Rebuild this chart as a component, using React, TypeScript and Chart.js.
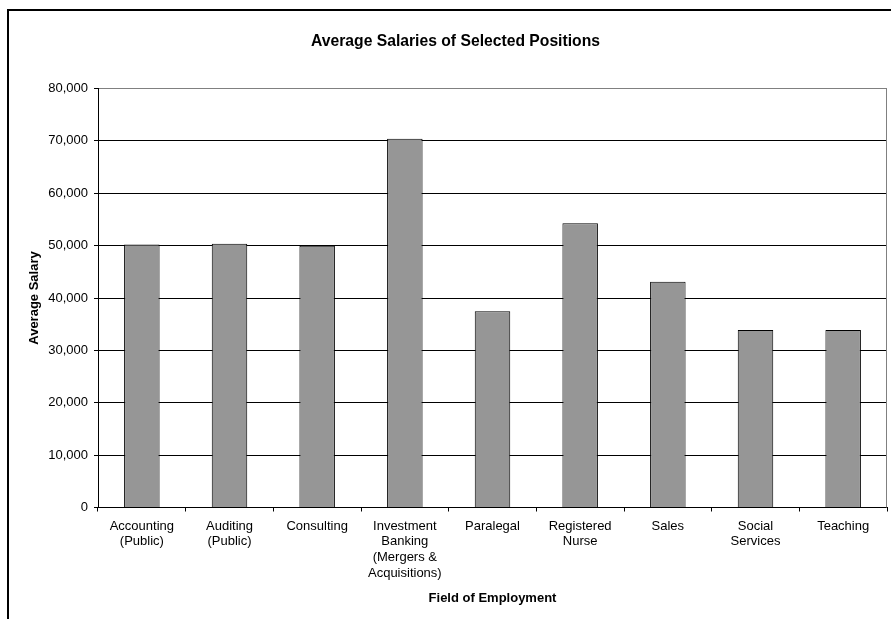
import React, { useEffect, useRef } from "react";
import { Chart, registerables } from "chart.js";

Chart.register(...registerables);

const categories: string[][] = [
  ["Accounting", "(Public)"],
  ["Auditing", "(Public)"],
  ["Consulting"],
  ["Investment", "Banking", "(Mergers &", "Acquisitions)"],
  ["Paralegal"],
  ["Registered", "Nurse"],
  ["Sales"],
  ["Social", "Services"],
  ["Teaching"],
];
const salaries: number[] = [50200, 50350, 50000, 70400, 37450, 54300, 43100, 33900, 33900];
const yMin = 0;
const yMax = 80000;
const yStep = 10000;
const chartTitle = "Average Salaries of Selected Positions";
const xTitle = "Field of Employment";
const yTitle = "Average Salary";

const FONT = "'Liberation Sans', Arial, Helvetica, sans-serif";
const CW = 893;
const CH = 608;

export default function App() {
  const ref = useRef<HTMLCanvasElement | null>(null);
  useEffect(() => {
    if (!ref.current) return;
    const rightBorder = {
      id: "rightBorder",
      afterDatasetsDraw(chart: any) {
        const { ctx, chartArea } = chart;
        ctx.save();
        ctx.strokeStyle = "#808080";
        ctx.lineWidth = 1;
        ctx.beginPath();
        const x = Math.round(chartArea.right) - 0.5;
        ctx.moveTo(x, chartArea.top);
        ctx.lineTo(x, chartArea.bottom);
        ctx.stroke();
        ctx.restore();
      },
    };
    const chart = new Chart(ref.current, {
      type: "bar",
      data: {
        labels: categories,
        datasets: [
          {
            data: salaries,
            backgroundColor: "#969696",
            borderColor: "#000000",
            borderWidth: 1,
            barPercentage: 0.405,
            categoryPercentage: 1,
          },
        ],
      },
      plugins: [rightBorder],
      options: {
        responsive: false,
        animation: false,
        devicePixelRatio: 1,
        layout: { padding: { left: 15, right: 15, top: 0, bottom: 0 } },
        plugins: {
          legend: { display: false },
          tooltip: { enabled: false },
          title: {
            display: true,
            text: chartTitle,
            color: "#000",
            font: { family: FONT, size: 15.7, weight: "bold", lineHeight: 1.2 },
            padding: { top: 21.5, bottom: 37.2 },
          },
        },
        scales: {
          x: {
            grid: {
              display: true,
              drawOnChartArea: false,
              drawTicks: true,
              tickLength: 4,
              color: "#000",
              offset: true,
            },
            border: { display: true, color: "#000", width: 1 },
            ticks: {
              color: "#000",
              font: { family: FONT, size: 13, lineHeight: 1.2 },
              maxRotation: 0,
              minRotation: 0,
              autoSkip: false,
              padding: 7,
            },
            title: {
              display: true,
              text: xTitle,
              color: "#000",
              font: { family: FONT, size: 13, weight: "bold", lineHeight: 1.2 },
              padding: { top: 0, bottom: 13 },
            },
            afterFit(scale: any) {
              scale.height = 111.5;
            },
          },
          y: {
            min: yMin,
            max: yMax,
            ticks: {
              stepSize: yStep,
              color: "#000",
              font: { family: FONT, size: 13, lineHeight: 1.2 },
              padding: 6,
              callback: (v: any) => Number(v).toLocaleString("en-US"),
            },
            grid: {
              color: (ctx: any) => (ctx.tick && ctx.tick.value === yMax ? "#808080" : "#000"),
              tickColor: "#000",
              tickLength: 4,
              lineWidth: 1,
            },
            border: { display: true, color: "#000", width: 1 },
            title: {
              display: true,
              text: yTitle,
              color: "#000",
              font: { family: FONT, size: 13, weight: "bold", lineHeight: 1.2 },
              padding: { top: 3, bottom: 0 },
            },
            afterFit(scale: any) {
              scale.width = 74;
            },
          },
        },
      },
    } as any);
    return () => chart.destroy();
  }, []);

  return (
    <div
      style={{
        position: "fixed",
        left: 0,
        top: 0,
        width: 891,
        height: 619,
        overflow: "hidden",
        background: "#fff",
      }}
    >
      <div
        style={{
          position: "absolute",
          left: 7,
          top: 9,
          width: CW,
          height: CH + 20,
          border: "2px solid #000",
          background: "#fff",
        }}
      >
        <canvas
          ref={ref}
          width={CW}
          height={CH}
          style={{ display: "block", width: CW, height: CH }}
        />
      </div>
    </div>
  );
}
